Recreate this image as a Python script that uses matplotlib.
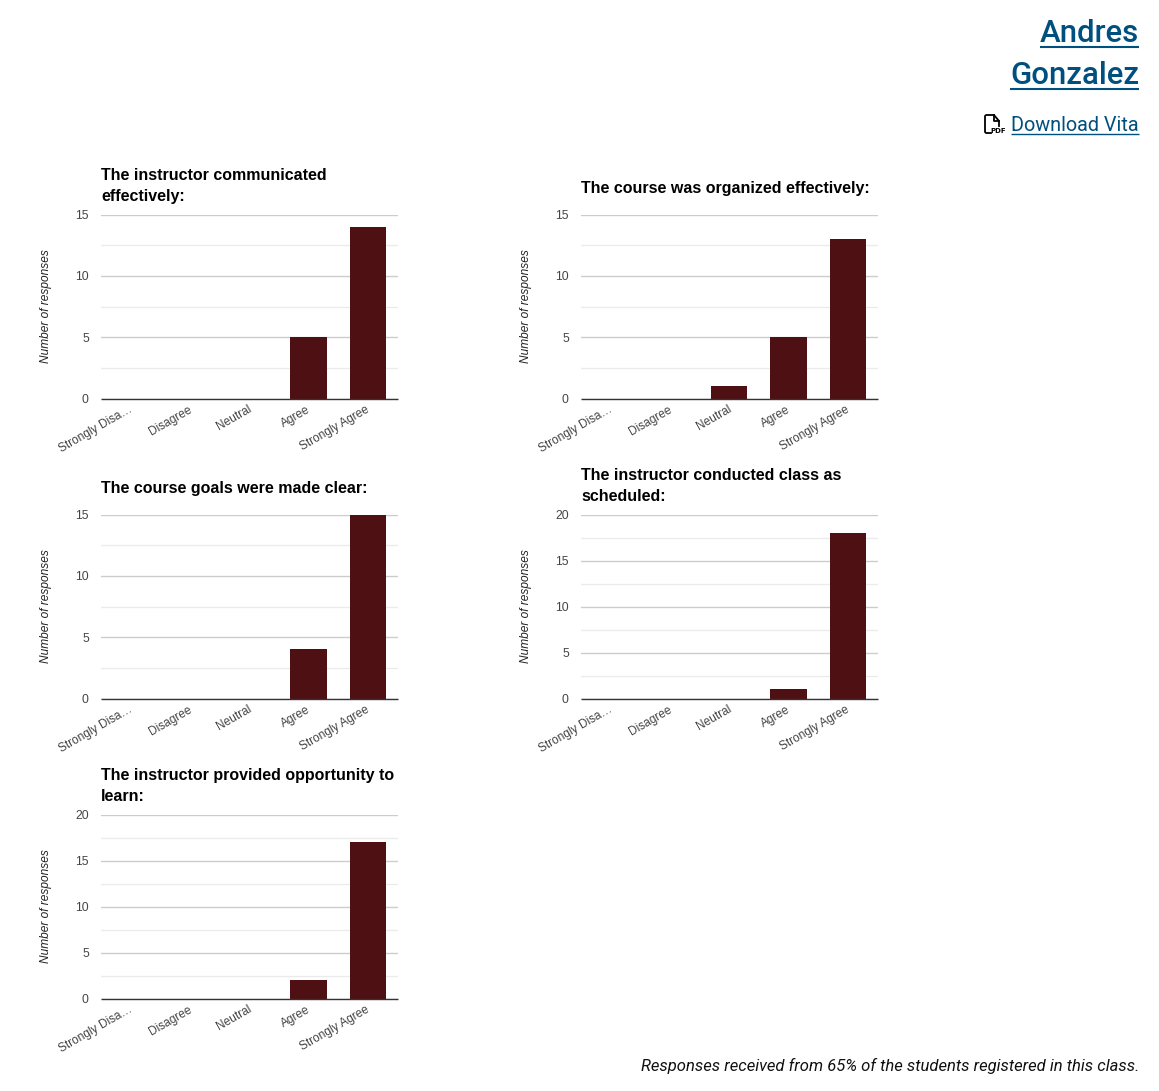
#!/usr/bin/env python3

import matplotlib
matplotlib.use("Agg")
import matplotlib.pyplot as plt
from matplotlib.lines import Line2D
from matplotlib.transforms import ScaledTranslation

matplotlib.rcParams["font.family"] = ["Liberation Sans", "DejaVu Sans"]

W, H = 1159, 1091
DARK_RED = "#4f1014"
LINK = "#00507f"
HEADER_FONT = ["Roboto", "Inter", "DejaVu Sans"]

categories = ["Strongly Disa…", "Disagree", "Neutral", "Agree", "Strongly Agree"]
titles = [
    "The instructor communicated\neffectively:",
    "The course was organized effectively:",
    "The course goals were made clear:",
    "The instructor conducted class as\nscheduled:",
    "The instructor provided opportunity to\nlearn:",
]
responses = [
    [0, 0, 0, 5, 14],
    [0, 0, 1, 5, 13],
    [0, 0, 0, 4, 15],
    [0, 0, 0, 1, 18],
    [0, 0, 0, 2, 17],
]
y_limits = [15, 15, 15, 20, 20]
y_ticks = [
    [0, 5, 10, 15],
    [0, 5, 10, 15],
    [0, 5, 10, 15],
    [0, 5, 10, 15, 20],
    [0, 5, 10, 15, 20],
]
y_minor = [
    [2.5, 7.5, 12.5],
    [2.5, 7.5, 12.5],
    [2.5, 7.5, 12.5],
    [2.5, 7.5, 12.5, 17.5],
    [2.5, 7.5, 12.5, 17.5],
]
# left edge and top edge of each panel, in pixels
panel_pos = [(101, 214.5), (581, 214.5), (101, 514.5), (581, 514.5), (101, 814.5)]
PANEL_W, PANEL_H = 296.5, 184


def px_text(fig, x, y, s, **kw):
    return fig.text(x / W, 1 - y / H, s, **kw)


def draw_panel(fig, i):
    left, top = panel_pos[i]
    ax = fig.add_axes([left / W, 1 - (top + PANEL_H) / H, PANEL_W / W, PANEL_H / H])
    ax.bar(range(5), responses[i], width=0.615, color=DARK_RED, zorder=3)
    ax.set_xlim(-0.5, 4.5)
    ax.set_ylim(0, y_limits[i])
    ax.set_yticks(y_ticks[i])
    ax.set_yticks(y_minor[i], minor=True)
    ax.set_xticks(range(5))
    ax.set_xticklabels(categories, rotation=30, ha="right", rotation_mode="anchor")
    ax.grid(axis="y", which="major", color="#cccccc", linewidth=1, zorder=0)
    ax.grid(axis="y", which="minor", color="#ebebeb", linewidth=1, zorder=0)
    ax.tick_params(axis="y", which="both", length=0, pad=8.8, labelsize=8.8, labelcolor="#444444")
    ax.tick_params(axis="x", length=0, pad=3.5, labelsize=8.6, labelcolor="#444444")
    shift = ScaledTranslation(-2 / 100, 0, fig.dpi_scale_trans)
    for lab in ax.get_xticklabels():
        lab.set_transform(lab.get_transform() + shift)
    for name in ["top", "left", "right"]:
        ax.spines[name].set_visible(False)
    ax.spines["bottom"].set_color("#333333")
    ax.spines["bottom"].set_linewidth(1)
    ax.spines["bottom"].set_capstyle("butt")
    ax.spines["bottom"].set_zorder(4)
    px_text(fig, left - 55.5, top + PANEL_H / 2 - 0.5, "Number of responses", rotation=90,
            style="italic", fontsize=8.6, color="#222222", ha="center", va="center")
    lines = titles[i].split("\n")
    y0 = top - 26 if len(lines) == 1 else top - 39
    for j, line in enumerate(lines):
        px_text(fig, left, y0 + j * 21, line, fontsize=11.5, fontweight="bold",
                color="black", ha="left", va="center")


def link_text(fig, right, y, s, size, underline_y, lw, weight="normal"):
    t = px_text(fig, right, y, s, fontsize=size, color=LINK, ha="right", va="center",
                family=HEADER_FONT, fontweight=weight)
    box = t.get_window_extent(fig.canvas.get_renderer())
    fig.add_artist(Line2D([box.x0 / W, 1139 / W], [1 - underline_y / H] * 2,
                          color=LINK, linewidth=lw, solid_capstyle="butt"))
    return t


def draw_pdf_icon(fig):
    # page outline with a folded corner, plus a small PDF tag
    outline = [(991, 133), (986, 133), (985, 132), (985, 116), (986, 115), (994, 115),
               (999, 121), (999, 126)]
    fold = [(993.5, 115), (993.5, 121), (999, 121)]
    for pts in (outline, fold):
        fig.add_artist(Line2D([p[0] / W for p in pts], [1 - p[1] / H for p in pts],
                              color="black", linewidth=1.3))
    px_text(fig, 998.5, 131.3, "PDF", fontsize=5, fontweight="bold", color="black",
            ha="center", va="center", family="DejaVu Sans")


if __name__ == "__main__":
    fig = plt.figure(figsize=(W / 100, H / 100), dpi=100, facecolor="white")
    for i in range(len(titles)):
        draw_panel(fig, i)
    fig.canvas.draw()
    link_text(fig, 1139, 33, "Andres", 22.4, 46.5, 1.5, weight="medium")
    link_text(fig, 1139, 75, "Gonzalez", 22.4, 88.5, 1.5, weight="medium")
    link_text(fig, 1139, 125.5, "Download Vita", 14.3, 134, 1)
    draw_pdf_icon(fig)
    px_text(fig, 1139, 1066, "Responses received from 65% of the students registered in this class.",
            fontsize=12, style="italic", color="#111111", ha="right", va="center",
            family=HEADER_FONT)
    fig.savefig("out.png", dpi=100)
